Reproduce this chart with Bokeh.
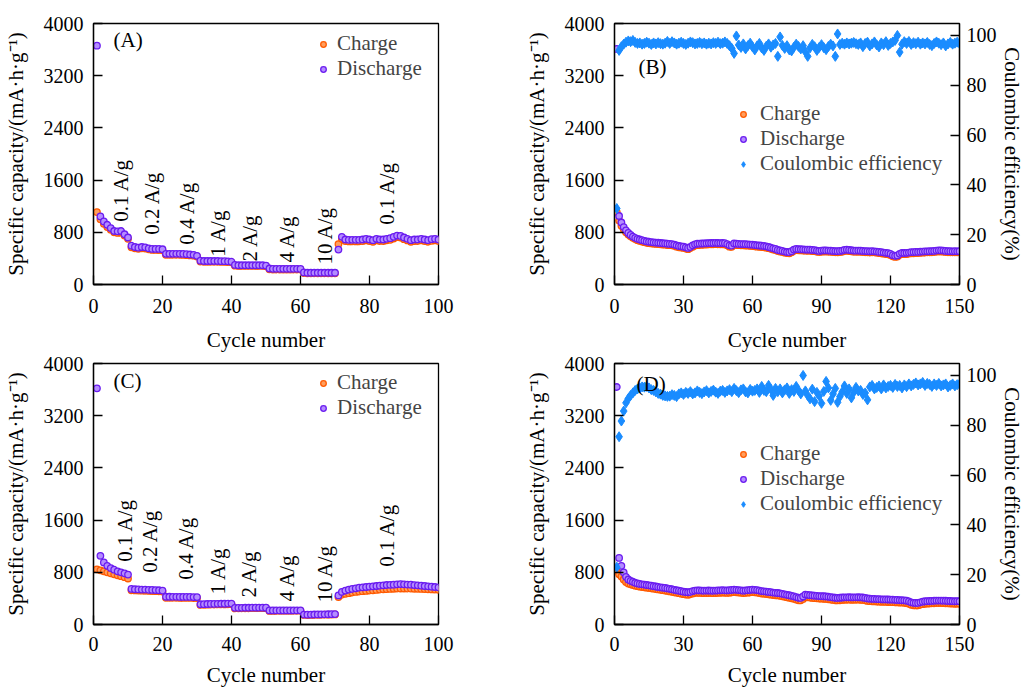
from bokeh.plotting import figure
from bokeh.models import Range1d, LinearAxis, FixedTicker, Legend, LegendItem, Label
from bokeh.layouts import column, row
from bokeh.embed import file_html
from bokeh.resources import INLINE

# ---------------- data ----------------
cycles_a = list(range(1, 101))
a_discharge = [3660, 1043, 967, 916, 865, 820, 815, 820, 770, 720,
               595, 575, 565, 575, 570, 555, 545, 545, 545, 540,
               470, 470, 470, 470, 470, 468, 465, 460, 455, 440,
               365, 360, 360, 360, 360, 360, 358, 358, 355, 350,
               300, 295, 295, 295, 295, 295, 295, 295, 295, 290,
               245, 240, 240, 240, 240, 240, 240, 240, 240, 238,
               185, 180, 180, 180, 180, 180, 180, 180, 180, 180,
               535, 730, 690, 685, 685, 685, 685, 690, 700, 690,
               680, 700, 690, 690, 700, 710, 730, 750, 745, 720,
               700, 680, 690, 690, 700, 690, 680, 695, 700, 690]
a_charge = [1110, 1000, 930, 880, 840, 800, 790, 795, 750, 700,
            570, 555, 548, 555, 552, 540, 530, 530, 528, 525,
            455, 455, 455, 455, 455, 453, 450, 446, 442, 428,
            352, 348, 348, 348, 348, 348, 346, 346, 344, 340,
            288, 284, 284, 284, 284, 284, 284, 284, 284, 280,
            234, 230, 230, 230, 230, 230, 230, 230, 230, 228,
            175, 172, 172, 172, 172, 172, 172, 172, 172, 172,
            620, 700, 665, 660, 660, 660, 660, 665, 675, 665,
            655, 675, 665, 665, 675, 685, 705, 725, 720, 695,
            675, 655, 665, 665, 675, 665, 655, 670, 675, 665]

c_discharge = [3620, 1053, 951, 900, 865, 840, 815, 800, 785, 765,
               545, 540, 538, 536, 535, 532, 530, 528, 525, 520,
               425, 425, 424, 424, 423, 423, 422, 422, 421, 420,
               310, 312, 314, 315, 316, 317, 318, 318, 320, 320,
               255, 256, 256, 257, 257, 258, 258, 258, 258, 258,
               215, 215, 215, 216, 216, 216, 216, 216, 216, 216,
               152, 150, 152, 153, 154, 155, 156, 157, 158, 160,
               445, 500, 520, 535, 545, 555, 565, 570, 575, 580,
               585, 590, 595, 600, 605, 608, 610, 615, 620, 615,
               612, 610, 605, 600, 595, 590, 585, 580, 575, 570]
c_charge = [845, 830, 815, 800, 785, 770, 755, 740, 725, 705,
            525, 522, 520, 518, 517, 515, 513, 511, 508, 505,
            410, 410, 409, 409, 408, 408, 407, 407, 406, 405,
            300, 302, 304, 305, 306, 307, 308, 308, 310, 310,
            247, 248, 248, 249, 249, 250, 250, 250, 250, 250,
            208, 208, 208, 209, 209, 209, 209, 209, 209, 209,
            146, 144, 146, 147, 148, 149, 150, 151, 152, 154,
            420, 455, 470, 480, 490, 500, 505, 510, 515, 520,
            525, 530, 535, 540, 542, 545, 548, 550, 552, 552,
            550, 550, 548, 546, 545, 543, 540, 538, 535, 532]

rate_labels = ["0.1 A/g", "0.2 A/g", "0.4 A/g", "1 A/g", "2 A/g", "4 A/g", "10 A/g", "0.1 A/g"]
# label anchor (cycle, capacity) for the rotated rate labels
a_label_x = [8.1, 17.1, 27.0, 36.2, 45.5, 56.2, 67.0, 85.0]
a_label_y = [962, 763, 611, 427, 351, 336, 305, 916]
c_label_x = [9.0, 16.5, 26.7, 36.0, 45.0, 56.0, 67.0, 85.0]
c_label_y = [962, 794, 687, 458, 412, 351, 336, 886]

cycles_b = list(range(1, 151))
b_discharge = [3610, 1050, 950, 880, 830, 790, 760, 735, 715, 700,
               690, 680, 670, 660, 655, 650, 645, 642, 640, 636,
               632, 630, 625, 622, 620, 612, 600, 590, 585, 580,
               570, 560, 575, 600, 615, 625, 625, 628, 630, 632,
               635, 636, 636, 638, 636, 635, 636, 634, 620, 600,
               595, 630, 625, 622, 620, 620, 618, 615, 612, 610,
               605, 600, 598, 595, 590, 585, 575, 565, 555, 545,
               530, 522, 515, 505, 498, 495, 510, 535, 545, 542,
               540, 538, 536, 534, 534, 530, 528, 520, 515, 520,
               524, 522, 520, 518, 515, 512, 510, 515, 520, 530,
               534, 530, 525, 520, 518, 520, 519, 515, 512, 510,
               508, 510, 509, 505, 500, 495, 490, 485, 480, 470,
               450, 440, 445, 470, 485, 483, 485, 490, 495, 497,
               499, 500, 502, 505, 508, 509, 510, 512, 515, 520,
               524, 522, 520, 515, 512, 510, 509, 510, 509, 510]
b_charge = [1110, 980, 900, 845, 800, 765, 738, 715, 696, 680,
            668, 658, 648, 640, 634, 630, 625, 622, 620, 616,
            612, 610, 605, 602, 600, 592, 580, 570, 566, 560,
            550, 541, 556, 580, 595, 605, 605, 608, 610, 612,
            615, 616, 616, 618, 616, 615, 616, 614, 600, 580,
            576, 610, 605, 602, 600, 600, 598, 595, 592, 590,
            585, 580, 578, 575, 570, 565, 556, 546, 536, 527,
            512, 504, 497, 488, 481, 478, 493, 517, 527, 524,
            522, 520, 518, 516, 516, 512, 510, 502, 497, 502,
            506, 504, 502, 500, 497, 494, 492, 497, 502, 512,
            516, 512, 507, 502, 500, 502, 501, 497, 494, 492,
            490, 492, 491, 487, 482, 477, 472, 467, 462, 452,
            432, 423, 428, 452, 467, 465, 467, 472, 477, 479,
            481, 482, 484, 487, 490, 491, 492, 494, 497, 502,
            506, 504, 502, 497, 494, 492, 491, 492, 491, 492]
b_ce = [30.5, 94.0, 95.5, 96.5, 97.3, 97.8, 97.5, 98.0, 97.2, 96.8,
        97.0, 96.5, 96.8, 97.3, 96.9, 96.4, 97.0, 96.6, 97.1, 96.7,
        96.5, 96.9, 97.6, 96.8, 97.5, 97.0, 96.5, 96.9, 97.3, 96.8,
        96.4, 96.9, 97.4, 97.1, 96.6, 96.8, 97.2, 96.7, 97.0, 96.5,
        96.9, 96.6, 97.1, 96.8, 97.3, 96.7, 96.9, 97.4, 96.8, 95.9,
        94.8, 92.8, 99.8, 96.2, 95.2, 96.6, 94.6, 95.9, 96.9, 95.4,
        94.2, 95.8, 96.8, 95.0, 94.0, 95.7, 96.6, 95.3, 96.2, 96.8,
        91.6, 99.4, 96.0, 94.8, 95.9, 94.2, 93.8, 95.3, 96.5, 95.6,
        94.6, 95.9, 93.4, 91.6, 95.0, 96.4, 95.5, 94.0, 95.2, 96.3,
        95.1, 94.3, 95.6, 96.5, 95.8, 91.6, 100.6, 96.4, 96.9, 96.5,
        97.0, 96.6, 96.9, 97.2, 96.7, 96.4, 97.0, 95.5, 96.8, 97.3,
        95.8, 96.6, 97.4, 96.2, 95.4, 97.0, 96.3, 97.5, 96.0, 96.8,
        97.4, 98.0, 100.0, 93.3, 96.5, 97.5, 96.8, 97.6, 96.4, 97.1,
        96.7, 97.3, 96.5, 97.0, 96.6, 97.2, 96.4, 95.9, 96.8, 97.4,
        96.9, 96.3, 97.0, 95.8, 96.6, 97.2, 96.5, 96.9, 97.3, 96.8]

d_discharge = [3640, 1020, 900, 800, 730, 690, 670, 655, 640, 630,
               622, 616, 612, 605, 600, 595, 588, 582, 576, 570,
               565, 560, 553, 546, 540, 532, 525, 518, 510, 503,
               498, 494, 500, 512, 520, 524, 522, 520, 518, 520,
               521, 519, 518, 520, 522, 524, 526, 524, 522, 526,
               530, 534, 532, 528, 524, 519, 522, 526, 530, 534,
               532, 528, 520, 512, 509, 505, 500, 495, 490, 485,
               483, 478, 470, 462, 455, 448, 440, 432, 420, 410,
               407, 430, 458, 455, 450, 446, 442, 440, 436, 434,
               433, 430, 425, 420, 415, 410, 407, 410, 414, 416,
               417, 418, 417, 416, 417, 418, 417, 414, 408, 400,
               396, 393, 392, 390, 388, 386, 385, 384, 383, 382,
               380, 378, 376, 374, 372, 370, 365, 355, 340, 332,
               330, 331, 340, 350, 356, 358, 360, 362, 364, 366,
               367, 366, 365, 364, 362, 360, 358, 356, 357, 356]
d_charge = [820, 770, 735, 690, 650, 628, 616, 606, 595, 587,
            580, 575, 571, 565, 560, 555, 549, 543, 537, 531,
            526, 521, 514, 507, 501, 494, 487, 480, 472, 465,
            460, 456, 462, 474, 482, 486, 484, 482, 480, 482,
            483, 481, 480, 482, 484, 486, 488, 486, 484, 488,
            492, 496, 494, 490, 486, 481, 484, 488, 492, 496,
            494, 490, 482, 474, 471, 467, 462, 457, 452, 447,
            445, 440, 432, 424, 417, 410, 402, 394, 382, 372,
            369, 392, 420, 417, 412, 408, 404, 402, 398, 396,
            395, 392, 387, 382, 377, 372, 369, 372, 376, 378,
            379, 380, 379, 378, 379, 380, 379, 376, 370, 362,
            358, 355, 354, 352, 350, 348, 347, 346, 345, 344,
            342, 340, 338, 336, 334, 332, 327, 317, 302, 294,
            292, 293, 302, 312, 318, 320, 322, 324, 326, 328,
            329, 328, 327, 326, 324, 322, 320, 318, 319, 318]
d_ce = [23.0, 75.4, 81.7, 85.7, 89.0, 90.7, 92.0, 93.0, 94.0, 94.6,
        95.0, 95.4, 95.3, 95.6, 95.0, 94.3, 94.0, 93.4, 92.8, 92.5,
        92.0, 91.8, 91.6, 91.7, 92.3, 92.0, 91.5, 92.6, 93.0, 92.4,
        93.2, 92.8, 93.5, 92.6, 93.0, 93.8, 93.2, 92.7, 93.4, 93.9,
        93.0, 93.6, 94.1, 93.3, 92.8, 93.7, 94.0, 93.2, 93.8, 94.3,
        93.5, 94.8, 93.9, 93.1, 94.2, 94.6, 93.4, 93.0, 94.4, 93.7,
        94.0, 94.6, 93.2, 95.6, 94.0, 93.5, 96.0, 94.4, 92.0, 94.8,
        93.5, 94.6, 93.0, 94.2, 95.0, 92.8, 94.3, 93.6, 95.6, 94.0,
        92.6, 100.0, 93.8, 92.0, 90.6, 94.5, 89.5, 93.2, 91.8, 88.8,
        93.6, 97.6, 95.0, 90.0, 92.6, 94.8, 89.2, 91.5, 93.4, 95.8,
        92.8, 94.6, 91.0, 93.2, 95.2, 93.8, 94.0, 92.4, 93.0, 90.2,
        95.4, 96.0, 94.6, 95.2, 95.8, 94.6, 96.2, 95.0, 95.6, 96.0,
        95.2, 96.4, 95.6, 96.0, 95.0, 96.2, 95.5, 96.6, 95.8, 96.4,
        97.0, 96.2, 96.6, 97.2, 96.0, 96.8, 96.4, 95.6, 96.6, 96.0,
        96.8, 95.8, 96.2, 96.6, 95.4, 96.0, 96.6, 95.8, 96.3, 96.5]

y_ticks = [0, 800, 1600, 2400, 3200, 4000]
ce_ticks = [0, 20, 40, 60, 80, 100]
xa_ticks = [0, 20, 40, 60, 80, 100]
xb_ticks = [0, 30, 60, 90, 120, 150]

# ---------------- style ----------------
FONT = "Liberation Serif"
ORANGE_LINE, ORANGE_FILL = "#FF5A00", "#FF9E5E"
PURPLE_LINE, PURPLE_FILL = "#6A1CF0", "#B48CFF"
BLUE = "#1A8CFF"
Y_LABEL = "Specific capacity/(mA\u00b7h\u00b7g\u207b\u00b9)"


def style_axis(ax, ticks):
    ax.ticker = FixedTicker(ticks=ticks)
    ax.major_tick_in = 9
    ax.major_tick_out = 0
    ax.minor_tick_in = 0
    ax.minor_tick_out = 0
    ax.axis_line_width = 1.3
    ax.major_tick_line_width = 1.3
    ax.major_label_text_font = FONT
    ax.major_label_text_font_size = "20px"
    ax.major_label_text_color = "black"
    ax.axis_label_text_font = FONT
    ax.axis_label_text_font_size = "21px"
    ax.axis_label_text_font_style = "normal"
    ax.axis_label_text_color = "black"


def make_fig(xmax, xticks, width, height, bl, br, bt, bb, s1, s2):
    p = figure(width=width, height=height, x_range=Range1d(0, xmax), y_range=Range1d(0, 4000),
               output_backend="svg", toolbar_location=None,
               min_border_left=bl, min_border_right=br, min_border_top=bt, min_border_bottom=bb)
    p.grid.visible = False
    p.outline_line_color = "black"
    p.outline_line_width = 1.3
    p.outline_line_alpha = 1
    p.background_fill_color = "white"
    style_axis(p.xaxis[0], xticks)
    style_axis(p.yaxis[0], y_ticks)
    p.xaxis.axis_label = "Cycle number"
    p.xaxis.major_label_standoff = s1
    p.xaxis.axis_label_standoff = s2
    p.yaxis.axis_label = Y_LABEL
    p.yaxis.major_label_standoff = 10
    p.yaxis.axis_label_standoff = 13
    return p


def add_series(p, x, charge, discharge):
    rc = p.scatter(x, charge, marker="circle", size=6.5, line_color=ORANGE_LINE,
                   fill_color=ORANGE_FILL, line_width=1.3)
    rd = p.scatter(x, discharge, marker="circle", size=6.5, line_color=PURPLE_LINE,
                   fill_color=PURPLE_FILL, line_width=1.3)
    return rc, rd


def add_ce_axis(p):
    p.extra_y_ranges = {"ce": Range1d(0, 104.8)}
    ax = LinearAxis(y_range_name="ce", axis_label="Coulombic efficiency(%)")
    style_axis(ax, ce_ticks)
    ax.major_label_standoff = 7
    ax.axis_label_standoff = 0
    p.add_layout(ax, "right")


def add_legend(p, items, loc, standoff):
    leg = Legend(items=items, location=loc, orientation="vertical",
                 background_fill_alpha=0, border_line_alpha=0,
                 label_text_font=FONT, label_text_font_size="21px",
                 label_height=24, glyph_height=14, glyph_width=14,
                 spacing=0, padding=0, margin=0, label_standoff=standoff)
    p.add_layout(leg)


def add_panel_label(p, x, y, text):
    p.add_layout(Label(x=x, y=y, text=text, text_font=FONT, text_font_size="21px",
                       text_baseline="middle", text_align="left", text_color="black"))


def add_rate_labels(p, xs, ys):
    for t, x, y in zip(rate_labels, xs, ys):
        p.add_layout(Label(x=x, y=y, text=t, angle=1.5708, text_font=FONT,
                           text_font_size="21px", text_baseline="middle",
                           text_align="left", text_color="black"))


# Panel A
pA = make_fig(100, xa_ticks, 520, 354, 93, 82, 23, 69, 14, 12)
rc, rd = add_series(pA, cycles_a, a_charge, a_discharge)
add_rate_labels(pA, a_label_x, a_label_y)
add_panel_label(pA, 5.8, 3740, "(A)")
add_legend(pA, [LegendItem(label="Charge", renderers=[rc]),
                LegendItem(label="Discharge", renderers=[rd])], (223, 203), 7)

# Panel B
pB = make_fig(150, xb_ticks, 507, 354, 94, 68, 23, 69, 14, 12)
add_ce_axis(pB)
rc, rd = add_series(pB, cycles_b, b_charge, b_discharge)
rce = pB.scatter(cycles_b, b_ce, y_range_name="ce", marker="diamond", size=10,
                 fill_color=BLUE, line_color=BLUE)
add_panel_label(pB, 10.4, 3328, "(B)")
add_legend(pB, [LegendItem(label="Charge", renderers=[rc]),
                LegendItem(label="Discharge", renderers=[rd]),
                LegendItem(label="Coulombic efficiency", renderers=[rce])], (122, 108), 10)

# Panel C
pC = make_fig(100, xa_ticks, 520, 335, 93, 82, 9, 64, 12, 9)
rc, rd = add_series(pC, cycles_a, c_charge, c_discharge)
add_rate_labels(pC, c_label_x, c_label_y)
add_panel_label(pC, 5.8, 3725, "(C)")
add_legend(pC, [LegendItem(label="Charge", renderers=[rc]),
                LegendItem(label="Discharge", renderers=[rd])], (223, 204), 7)

# Panel D
pD = make_fig(150, xb_ticks, 507, 335, 94, 68, 9, 64, 12, 9)
add_ce_axis(pD)
rc, rd = add_series(pD, cycles_b, d_charge, d_discharge)
rce = pD.scatter(cycles_b, d_ce, y_range_name="ce", marker="diamond", size=10,
                 fill_color=BLUE, line_color=BLUE)
add_panel_label(pD, 9.6, 3679, "(D)")
add_legend(pD, [LegendItem(label="Charge", renderers=[rc]),
                LegendItem(label="Discharge", renderers=[rd]),
                LegendItem(label="Coulombic efficiency", renderers=[rce])], (122, 108), 10)

layout = column(row(pA, pB), row(pC, pD))
open("out.html", "w").write(file_html(layout, INLINE))
